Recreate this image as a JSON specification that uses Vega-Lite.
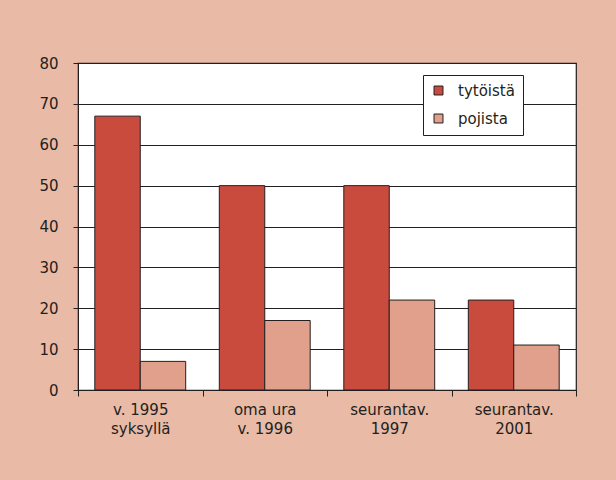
{
  "$schema": "https://vega.github.io/schema/vega-lite/v6.json",
  "width": 498,
  "height": 327,
  "autosize": "none",
  "padding": {"left": 78, "top": 63, "right": 40, "bottom": 90},
  "background": "#E9BAA6",
  "config": {
    "view": {"fill": "white", "stroke": "#231F20", "strokeWidth": 1.2},
    "font": "DejaVu Sans"
  },
  "data": {
    "values": [
      {"ryhma": "v. 1995|syksyllä", "sukupuoli": "tytöistä", "arvo": 67},
      {"ryhma": "v. 1995|syksyllä", "sukupuoli": "pojista", "arvo": 7},
      {"ryhma": "oma ura|v. 1996", "sukupuoli": "tytöistä", "arvo": 50},
      {"ryhma": "oma ura|v. 1996", "sukupuoli": "pojista", "arvo": 17},
      {"ryhma": "seurantav.|1997", "sukupuoli": "tytöistä", "arvo": 50},
      {"ryhma": "seurantav.|1997", "sukupuoli": "pojista", "arvo": 22},
      {"ryhma": "seurantav.|2001", "sukupuoli": "tytöistä", "arvo": 22},
      {"ryhma": "seurantav.|2001", "sukupuoli": "pojista", "arvo": 11}
    ]
  },
  "mark": {"type": "bar", "stroke": "#231F20", "strokeWidth": 1},
  "encoding": {
    "x": {
      "field": "ryhma",
      "type": "nominal",
      "sort": null,
      "scale": {"paddingInner": 0, "paddingOuter": 0},
      "axis": {
        "title": null,
        "labelAngle": 0,
        "labelExpr": "split(datum.label, '|')",
        "labelFontSize": 15,
        "labelColor": "#231F20",
        "labelLineHeight": 19,
        "labelPadding": 6,
        "tickBand": "extent",
        "tickSize": 6,
        "tickColor": "#231F20",
        "domainColor": "#231F20",
        "grid": false
      }
    },
    "xOffset": {
      "field": "sukupuoli",
      "type": "nominal",
      "sort": ["tytöistä", "pojista"],
      "scale": {"paddingInner": 0, "paddingOuter": 0.37}
    },
    "y": {
      "field": "arvo",
      "type": "quantitative",
      "scale": {"domain": [0, 80], "nice": false},
      "axis": {
        "title": null,
        "values": [0, 10, 20, 30, 40, 50, 60, 70, 80],
        "labelFontSize": 15,
        "labelColor": "#231F20",
        "labelPadding": 15,
        "tickSize": 5,
        "tickColor": "#231F20",
        "domainColor": "#231F20",
        "grid": true,
        "gridColor": "#231F20",
        "gridOpacity": 1,
        "gridWidth": 1
      }
    },
    "color": {
      "field": "sukupuoli",
      "type": "nominal",
      "sort": ["tytöistä", "pojista"],
      "scale": {"domain": ["tytöistä", "pojista"], "range": ["#C94B3D", "#E1A08B"]},
      "legend": {
        "title": null,
        "orient": "none",
        "legendX": 345,
        "legendY": 12,
        "fillColor": "white",
        "strokeColor": "#231F20",
        "padding": 8,
        "labelFontSize": 15,
        "labelColor": "#231F20",
        "labelOffset": 12,
        "symbolType": "square",
        "symbolSize": 80,
        "symbolStrokeColor": "#231F20",
        "symbolStrokeWidth": 1,
        "rowPadding": 12
      }
    }
  }
}
